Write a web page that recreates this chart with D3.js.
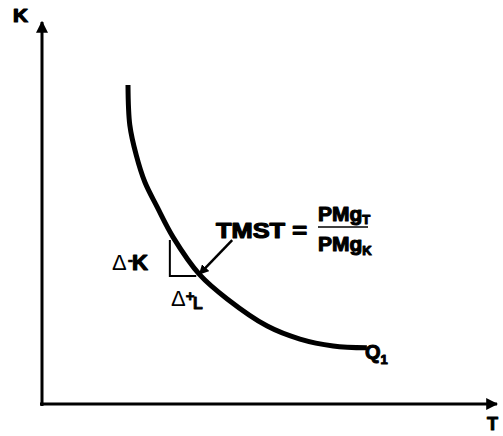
<!DOCTYPE html>
<html>
<head>
<meta charset="utf-8">
<script src="https://cdn.jsdelivr.net/npm/d3@7"></script>
<style>
  body { margin: 0; background: #fff; }
  svg text { font-family: "Liberation Sans", Arial, sans-serif; font-weight: bold; fill: #000; }
</style>
</head>
<body>
<div id="chart"></div>
<script>
"use strict";

// isoquant Q1 (L, K)
let curveL = [18.9, 19.3, 20.7, 22.6, 25.3, 28.8, 34.7, 40.7, 49.5, 56.7, 64.0, 71.4];
let curveK = [83.5, 73.0, 65.2, 58.1, 51.6, 43.7, 33.8, 27.5, 20.4, 17.0, 15.2, 14.7];

// the small triangle at the point of tangency
let triL = [28.1, 28.1, 33.9];
let triK = [42.9, 33.5, 33.5];

// arrow from formula to the point
let arrowL = [41.8, 34.6];
let arrowK = [42.9, 34.0];

let axisLabels = ['K', 'T'];

const width = 503, height = 436;

let svg = d3.select('#chart')
  .append('svg')
  .attr('width', width)
  .attr('height', height);

let x = d3.scaleLinear().domain([0, 100]).range([42, 497]);
let y = d3.scaleLinear().domain([0, 100]).range([404, 22]);

function heavy(sel, w)
{
  return sel.attr('stroke', '#000').attr('stroke-width', w).attr('stroke-linejoin', 'round');
}

svg.append('defs').append('marker')
  .attr('id', 'head')
  .attr('viewBox', '0 0 10 10')
  .attr('refX', 9).attr('refY', 5)
  .attr('markerWidth', 4).attr('markerHeight', 4)
  .attr('markerUnits', 'strokeWidth')
  .attr('orient', 'auto')
  .append('path')
  .attr('d', 'M0,0 L10,5 L0,10 z');

// axes
svg.append('line')
  .attr('x1', x(0)).attr('y1', y(0) + 2)
  .attr('x2', x(0)).attr('y2', y(100))
  .attr('stroke', '#000').attr('stroke-width', 3)
  .attr('marker-end', 'url(#head)');

svg.append('line')
  .attr('x1', x(0) - 2).attr('y1', y(0))
  .attr('x2', x(100)).attr('y2', y(0))
  .attr('stroke', '#000').attr('stroke-width', 3)
  .attr('marker-end', 'url(#head)');

heavy(svg.append('text')
  .attr('x', 13).attr('y', 22)
  .attr('font-size', 18)
  .attr('textLength', 15)
  .attr('lengthAdjust', 'spacingAndGlyphs')
  .text(axisLabels[0]), 1.2);

heavy(svg.append('text')
  .attr('x', 487).attr('y', 430)
  .attr('font-size', 18)
  .text(axisLabels[1]), 1);

// isoquant
let line = d3.line()
  .x(d => x(d[0]))
  .y(d => y(d[1]))
  .curve(d3.curveCatmullRom);

svg.append('path')
  .datum(d3.zip(curveL, curveK))
  .attr('d', line)
  .attr('fill', 'none')
  .attr('stroke', '#000')
  .attr('stroke-width', 5);

// triangle
svg.append('path')
  .datum(d3.zip(triL, triK))
  .attr('d', d3.line().x(d => x(d[0])).y(d => y(d[1])))
  .attr('fill', 'none')
  .attr('stroke', '#000')
  .attr('stroke-width', 2);

// arrow
svg.append('line')
  .attr('x1', x(arrowL[0])).attr('y1', y(arrowK[0]))
  .attr('x2', x(arrowL[1])).attr('y2', y(arrowK[1]))
  .attr('stroke', '#000').attr('stroke-width', 2.5)
  .attr('marker-end', 'url(#head)');

// delta labels
let dk = svg.append('text').attr('x', 112).attr('y', 270).attr('font-size', 22);
dk.append('tspan').attr('font-weight', 'normal').text('Δ');
heavy(dk.append('tspan').attr('font-size', 16).attr('dy', -5).attr('dx', 1).text('-'), 0.6);
heavy(dk.append('tspan').attr('dy', 5).attr('dx', -1).text('K'), 1.2);

let dl = svg.append('text').attr('x', 171).attr('y', 306).attr('font-size', 22);
dl.append('tspan').attr('font-weight', 'normal').text('Δ');
heavy(dl.append('tspan').attr('font-size', 15).attr('dy', -5).text('+'), 0.8);
heavy(svg.append('text').attr('x', 193).attr('y', 309).attr('font-size', 16).text('L'), 0.8);

// formula
heavy(svg.append('text')
  .attr('x', 216).attr('y', 238)
  .attr('font-size', 22)
  .attr('textLength', 91)
  .attr('lengthAdjust', 'spacingAndGlyphs')
  .text('TMST ='), 1.2);

let num = heavy(svg.append('text').attr('x', 318).attr('y', 221).attr('font-size', 21), 1.1);
num.append('tspan').text('PMg');
num.append('tspan').attr('font-size', 13).attr('dy', 3).text('T');

svg.append('line')
  .attr('x1', 318).attr('y1', 227)
  .attr('x2', 368).attr('y2', 227)
  .attr('stroke', '#000').attr('stroke-width', 1.5);

let den = heavy(svg.append('text').attr('x', 318).attr('y', 251).attr('font-size', 21), 1.1);
den.append('tspan').text('PMg');
den.append('tspan').attr('font-size', 13).attr('dy', 4).text('K');

// Q1
let q = heavy(svg.append('text').attr('x', 365).attr('y', 359).attr('font-size', 20), 1);
q.append('tspan').text('Q');
q.append('tspan').attr('font-size', 13).attr('dy', 5).text('1');
</script>
</body>
</html>
